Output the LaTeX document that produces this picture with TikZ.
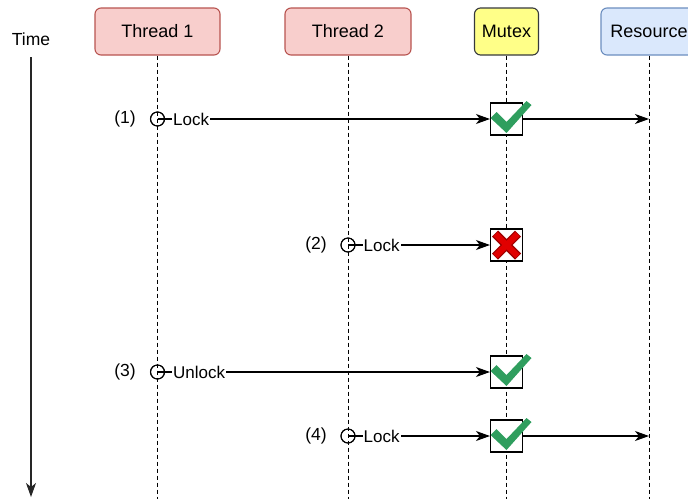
\documentclass[tikz,border=0pt]{standalone}
\usepackage{fontspec}
\setmainfont{Liberation Sans}
\usetikzlibrary{arrows.meta}

\definecolor{threadfill}{HTML}{F8CECC}
\definecolor{threaddraw}{HTML}{B85450}
\definecolor{mutexfill}{HTML}{FFFF88}
\definecolor{mutexdraw}{HTML}{36393D}
\definecolor{resfill}{HTML}{DAE8FC}
\definecolor{resdraw}{HTML}{6C8EBF}
\definecolor{tickgreen}{HTML}{2F9E5E}
\definecolor{crossred}{HTML}{E10000}
\definecolor{crossdark}{HTML}{9E0000}

\tikzset{
  header/.style={draw, rounded corners=6pt, line width=1.1pt, minimum height=47pt,
                 inner sep=0pt, font=\fontsize{18}{21}\selectfont},
  lifeline/.style={line width=1pt, dash pattern=on 4pt off 3pt},
  tip/.style={-{Stealth[length=14pt,width=10pt,inset=4pt]}},
  msg/.style={line width=1.1pt, tip},
  startdot/.style={circle, draw, line width=1pt, minimum size=14pt, inner sep=0pt},
  msglabel/.style={fill=white, inner sep=1pt, anchor=west, font=\fontsize{17}{20}\selectfont},
  steplabel/.style={font=\fontsize{17.5}{20}\selectfont},
  statebox/.style={draw, fill=white, line width=1.1pt, minimum size=32pt, inner sep=0pt},
  pics/tick/.style={code={
    \fill[tickgreen] (-16,-1) -- (-10,-7) -- (0,3) -- (20,-18) -- (25,-14) -- (0,14) -- cycle;
  }},
  pics/cross/.style={code={
    \draw[crossdark, line width=8.5pt] (-11.5,-11.5) -- (11.5,11.5) (-11.5,11.5) -- (11.5,-11.5);
    \draw[crossred, line width=6pt] (-11,-11) -- (11,11) (-11,11) -- (11,-11);
  }}
}

\begin{document}
\begin{tikzpicture}[x=1pt, y=-1pt]
  \useasboundingbox (0,0) rectangle (688,499);

  % participants
  \node[header, fill=threadfill, draw=threaddraw, minimum width=125pt] (t1) at (157.5,31.5) {Thread 1};
  \node[header, fill=threadfill, draw=threaddraw, minimum width=126pt] (t2) at (348,31.5) {Thread 2};
  \node[header, fill=mutexfill, draw=mutexdraw, minimum width=64pt] (mx) at (506.5,31.5) {Mutex};
  \node[header, fill=resfill, draw=resdraw, minimum width=96pt] (rs) at (649,31.5) {Resource};

  % time axis
  \node[font=\fontsize{17.5}{20}\selectfont] (time) at (31,39) {Time};
  \coordinate (tend) at (31,497);
  \draw[line width=1.1pt, color=black!85, tip] (31,57) -- (tend);

  % lifelines
  \coordinate (t1end) at (157.5,499);
  \coordinate (t2end) at (348,499);
  \coordinate (mxend) at (506.5,499);
  \coordinate (rsend) at (649,499);
  \draw[lifeline] (t1.south) -- (t1end);
  \draw[lifeline] (t2.south) -- (t2end);
  \draw[lifeline] (mx.south) -- (mxend);
  \draw[lifeline] (rs.south) -- (rsend);

  % start points of the requests
  \node[startdot] (e1) at (157.5,119) {};
  \node[startdot] (e2) at (348,245) {};
  \node[startdot] (e3) at (157.5,372) {};
  \node[startdot] (e4) at (348,436) {};

  % mutex states
  \node[statebox] (m1) at (506.5,119) {};
  \node[statebox] (m2) at (506.5,245) {};
  \node[statebox] (m3) at (506.5,372) {};
  \node[statebox] (m4) at (506.5,436) {};

  % resource end points
  \coordinate (r1) at (649,119);
  \coordinate (r4) at (649,436);

  % requests
  \draw[msg] (e1.center) -- (m1.west);
  \draw[msg] (e2.center) -- (m2.west);
  \draw[msg] (e3.center) -- (m3.west);
  \draw[msg] (e4.center) -- (m4.west);
  \draw[msg] (m1.east) -- (r1);
  \draw[msg] (m4.east) -- (r4);

  % labels on the requests
  \node[msglabel] (l1) at ([xshift=7pt]e1.east) {Lock};
  \node[msglabel] (l2) at ([xshift=7pt]e2.east) {Lock};
  \node[msglabel] (l3) at ([xshift=7pt]e3.east) {Unlock};
  \node[msglabel] (l4) at ([xshift=7pt]e4.east) {Lock};

  % step numbers
  \node[steplabel] (n1) at (125,119) {(1)};
  \node[steplabel] (n2) at (316,245) {(2)};
  \node[steplabel] (n3) at (125,372) {(3)};
  \node[steplabel] (n4) at (316,436) {(4)};

  % redraw the start circles above the lines
  \foreach \e in {e1,e2,e3,e4} \draw[line width=1pt] (\e) circle (7pt);

  % outcome marks
  \pic at (m1.center) {tick};
  \pic at (m2.center) {cross};
  \pic at (m3.center) {tick};
  \pic at (m4.center) {tick};
\end{tikzpicture}
\end{document}
